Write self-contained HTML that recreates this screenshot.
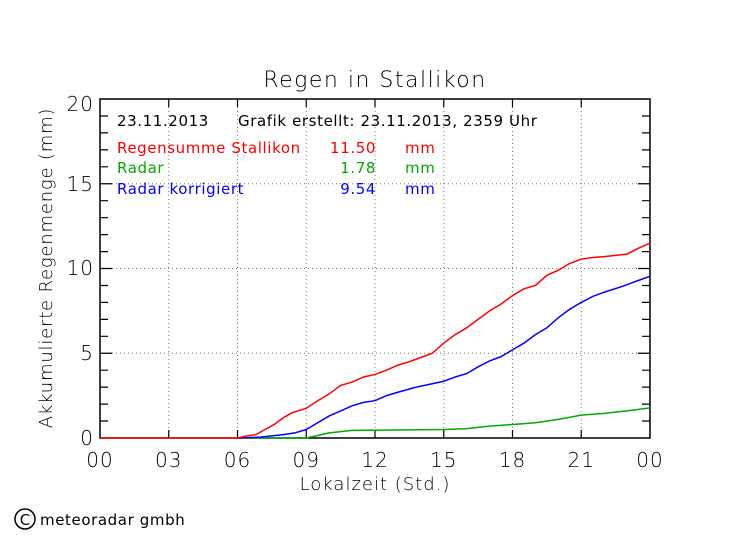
<!DOCTYPE html>
<html><head><meta charset="utf-8"><style>
body{margin:0;background:#fff}
svg text{font-family:"DejaVu Sans","Liberation Sans",sans-serif}
</style></head><body>
<svg width="749" height="539" viewBox="0 0 749 539" xmlns="http://www.w3.org/2000/svg">
<rect width="749" height="539" fill="#fff"/>
<text x="375" y="87" font-size="22" text-anchor="middle" font-weight="200" letter-spacing="1.5">Regen in Stallikon</text>
<g stroke="#777" stroke-dasharray="1,3" stroke-width="1">
<line x1="168.75" y1="99" x2="168.75" y2="438"/><line x1="237.5" y1="99" x2="237.5" y2="438"/>
<line x1="306.25" y1="99" x2="306.25" y2="438"/><line x1="375" y1="99" x2="375" y2="438"/>
<line x1="443.75" y1="99" x2="443.75" y2="438"/><line x1="512.5" y1="99" x2="512.5" y2="438"/>
<line x1="581.25" y1="99" x2="581.25" y2="438"/>
<line x1="100" y1="353.25" x2="650" y2="353.25"/><line x1="100" y1="268.5" x2="650" y2="268.5"/>
<line x1="100" y1="183.75" x2="650" y2="183.75"/>
</g>
<g stroke="#000" stroke-width="1.5">
<rect x="100" y="99" width="550" height="339" fill="none"/>
</g>
<g stroke="#000" stroke-width="1.2">
<path d="M168.75 438v-8M237.5 438v-8M306.25 438v-8M375 438v-8M443.75 438v-8M512.5 438v-8M581.25 438v-8
M168.75 99v8M237.5 99v8M306.25 99v8M375 99v8M443.75 99v8M512.5 99v8M581.25 99v8"/>
<path id="yt" d="M100 421h8M100 404.1h8M100 387.1h8M100 370.2h8M100 353.25h12M100 336.3h8M100 319.4h8M100 302.4h8M100 285.5h8M100 268.5h12M100 251.6h8M100 234.6h8M100 217.7h8M100 200.7h8M100 183.75h12M100 166.8h8M100 149.9h8M100 132.9h8M100 116h8"/>
<use href="#yt" transform="translate(750,0) scale(-1,1)"/>
</g>
<g font-size="20" text-anchor="end" font-weight="200" letter-spacing="1">
<text x="94" y="445">0</text><text x="94" y="360">5</text><text x="94" y="275">10</text>
<text x="94" y="191">15</text><text x="94" y="111">20</text>
</g>
<g font-size="20" text-anchor="middle" font-weight="200" letter-spacing="1">
<text x="100" y="467">00</text><text x="168.75" y="467">03</text><text x="237.5" y="467">06</text>
<text x="306.25" y="467">09</text><text x="375" y="467">12</text><text x="443.75" y="467">15</text>
<text x="512.5" y="467">18</text><text x="581.25" y="467">21</text><text x="650" y="467">00</text>
</g>
<text x="375" y="490" font-size="18" text-anchor="middle" font-weight="200" letter-spacing="1">Lokalzeit (Std.)</text>
<text transform="translate(52,268) rotate(-90)" font-size="18" text-anchor="middle" font-weight="200" letter-spacing="0.8">Akkumulierte Regenmenge (mm)</text>
<g font-size="15" letter-spacing="0.6">
<text x="117" y="126">23.11.2013</text><text x="238" y="126">Grafik erstellt: 23.11.2013, 2359 Uhr</text>
<text x="117" y="153" fill="#f00">Regensumme Stallikon</text><text x="376" y="153" fill="#f00" text-anchor="end">11.50</text><text x="405" y="153" fill="#f00">mm</text>
<text x="117" y="173" fill="#0a0">Radar</text><text x="376" y="173" fill="#0a0" text-anchor="end">1.78</text><text x="405" y="173" fill="#0a0">mm</text>
<text x="117" y="194" fill="#00f">Radar korrigiert</text><text x="376" y="194" fill="#00f" text-anchor="end">9.54</text><text x="405" y="194" fill="#00f">mm</text>
</g>
<g fill="none" stroke-width="1.5" transform="translate(100,438) scale(22.917,-16.95)">
<polyline vector-effect="non-scaling-stroke" stroke="#0a0" points="6,0 9,0 9.5,0.15 10,0.3 11,0.45 15,0.5 16,0.55 17,0.7 18,0.8 19,0.9 20,1.1 21,1.35 22,1.45 23,1.6 24,1.78"/>
<polyline vector-effect="non-scaling-stroke" stroke="#00f" points="6,0 7,0.05 8,0.2 8.5,0.3 9,0.5 9.5,0.9 10,1.3 10.5,1.6 11,1.9 11.5,2.1 12,2.2 12.5,2.5 13,2.7 13.8,3 14.5,3.2 15,3.35 15.5,3.6 16,3.8 16.5,4.2 17,4.55 17.5,4.8 18,5.2 18.5,5.6 19,6.1 19.5,6.5 20,7.1 20.5,7.6 21,8 21.5,8.35 22,8.6 22.8,8.95 23.5,9.3 24,9.54"/>
<polyline vector-effect="non-scaling-stroke" stroke="#f00" points="0,0 6,0 6.3,0.1 6.8,0.2 7.2,0.5 7.6,0.8 8,1.2 8.4,1.5 9,1.75 9.5,2.2 10,2.6 10.5,3.1 11,3.3 11.5,3.6 12,3.75 12.5,4 13,4.3 13.5,4.5 14,4.75 14.5,5 15,5.6 15.5,6.1 16,6.5 16.5,7 17,7.5 17.5,7.9 18,8.4 18.5,8.8 19,9 19.5,9.6 20,9.9 20.5,10.3 21,10.55 21.5,10.65 22,10.7 23,10.85 23.5,11.2 24,11.5"/>
</g>
<circle cx="25" cy="519" r="10" fill="none" stroke="#000" stroke-width="1.5"/>
<text x="25" y="525" font-size="15" text-anchor="middle">C</text>
<text x="40" y="525" font-size="15" letter-spacing="0.6">meteoradar gmbh</text>
</svg>
</body></html>
